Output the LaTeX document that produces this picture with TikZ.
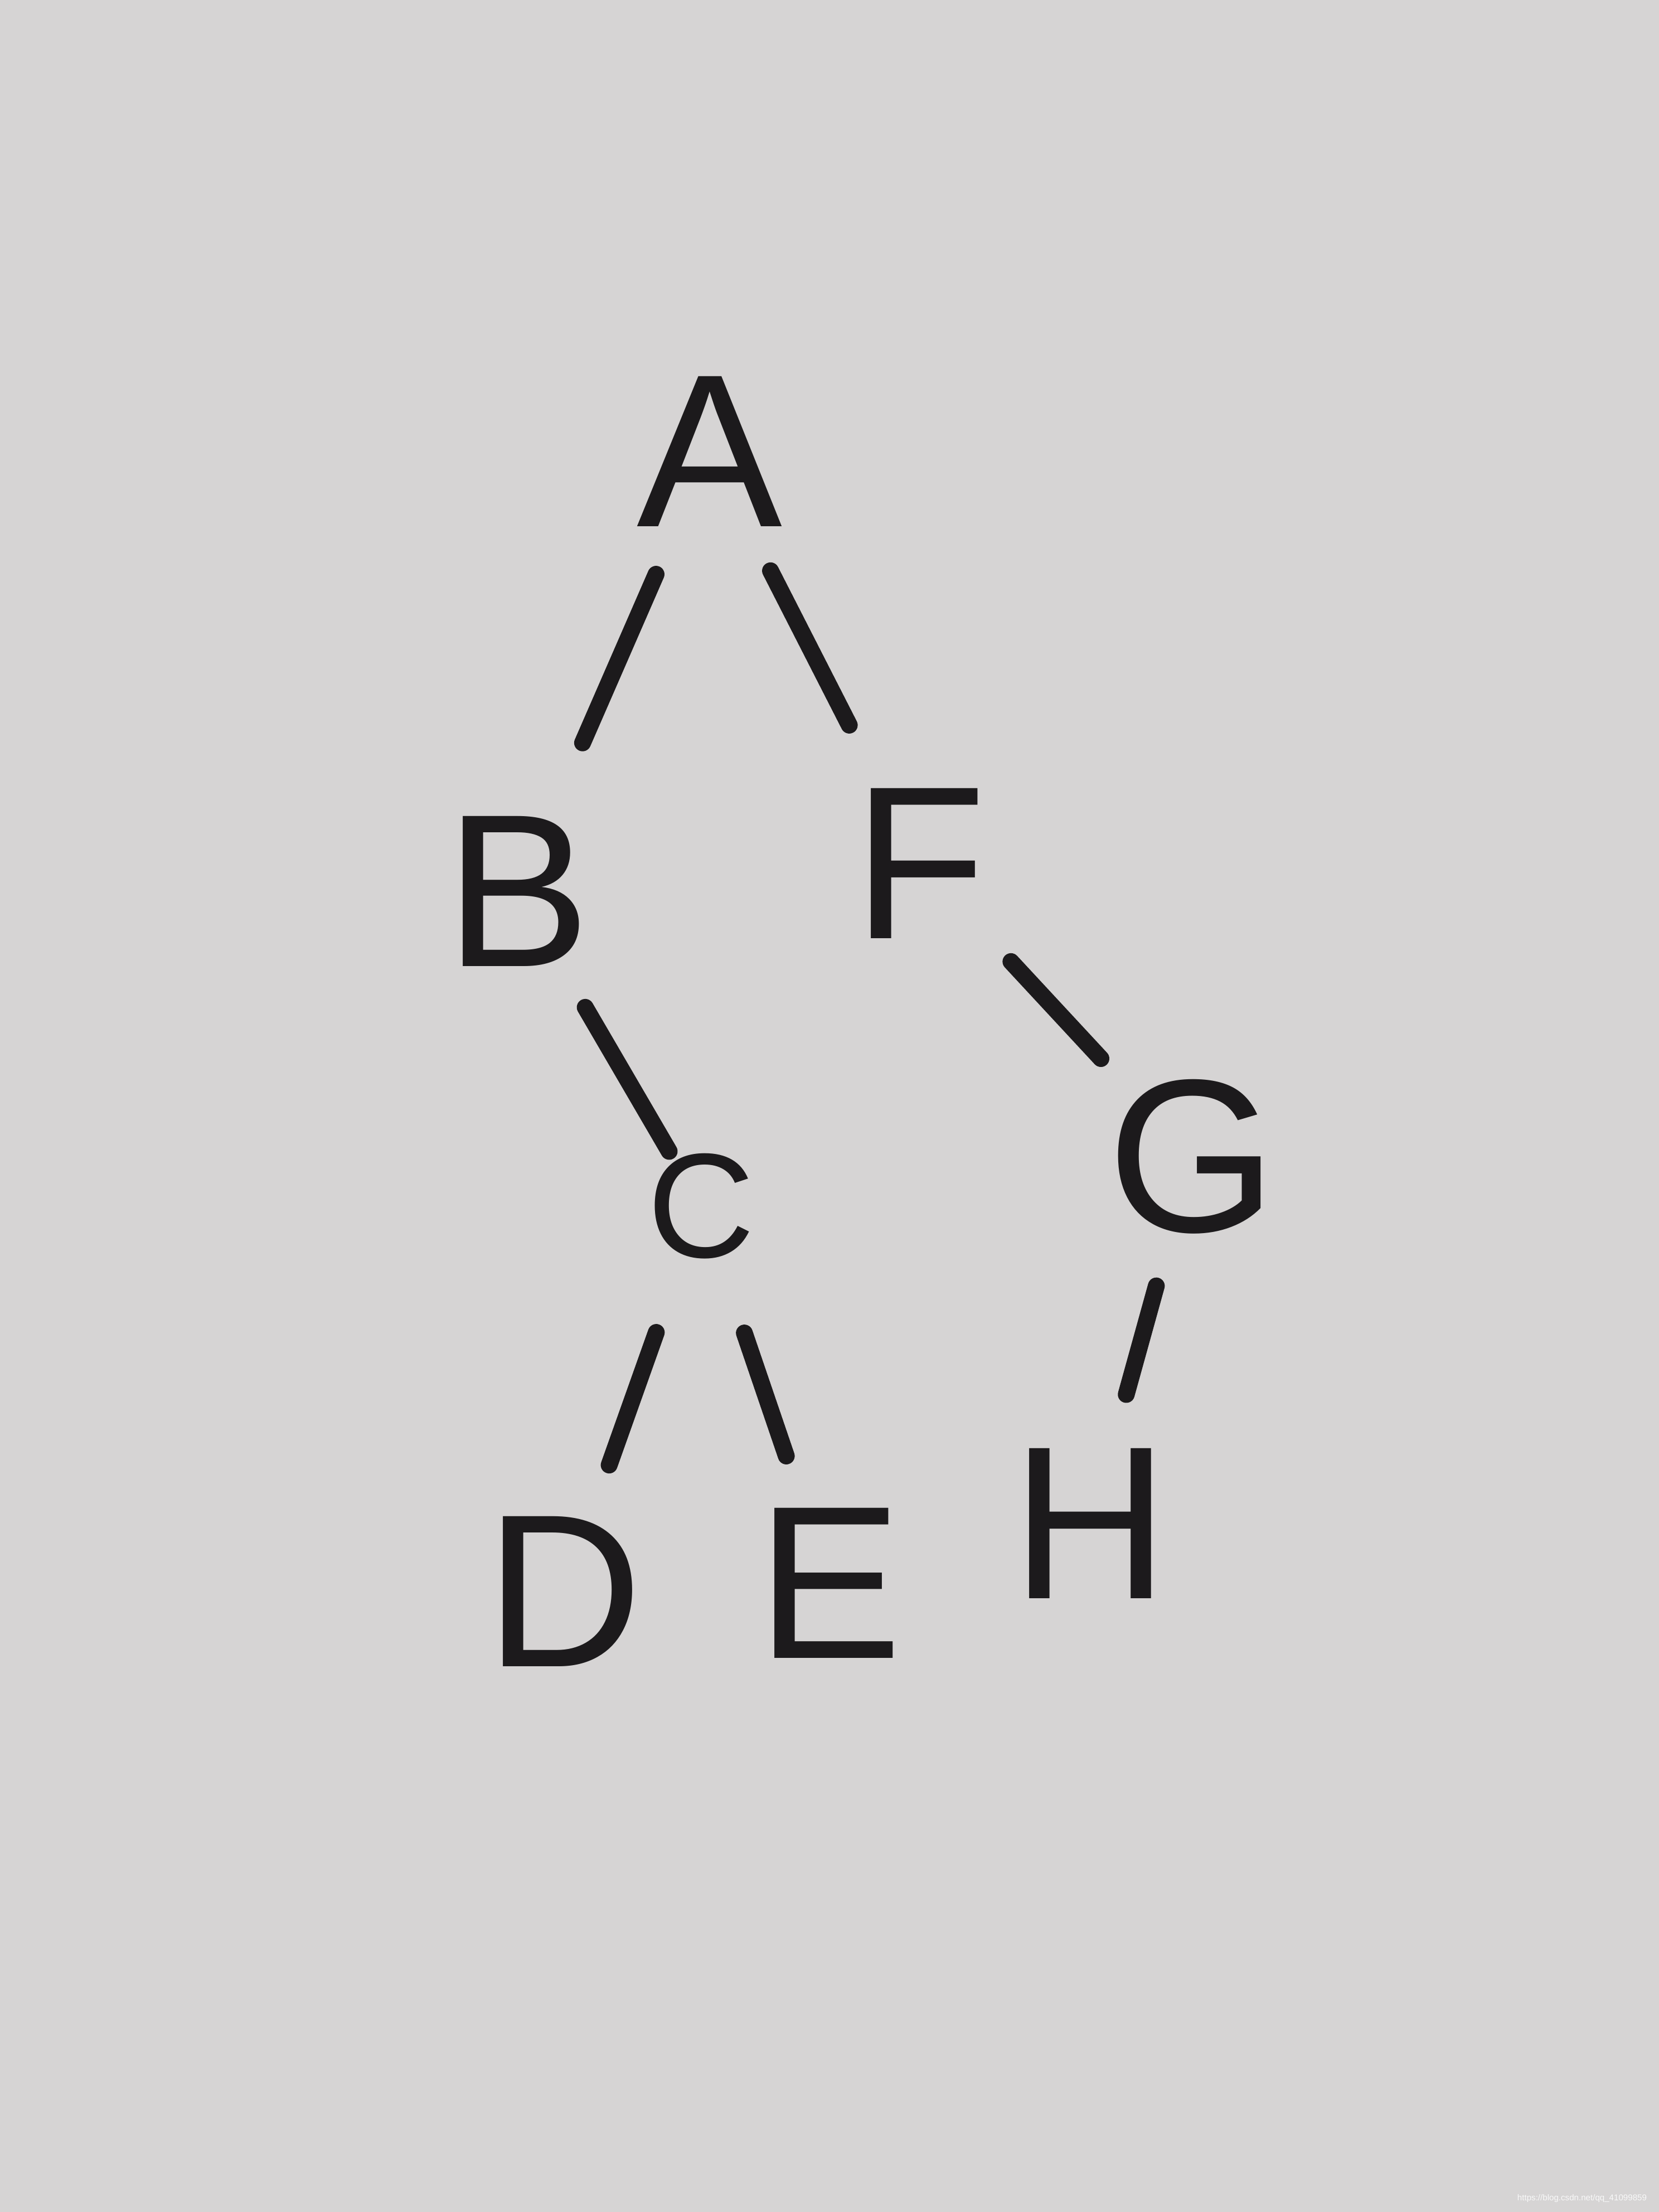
\documentclass[tikz,border=0pt]{standalone}
\usepackage{fontspec}
\setsansfont{Liberation Sans}
\usepackage{tikz}
\definecolor{paper}{RGB}{214,212,212}
\definecolor{ink}{RGB}{28,26,28}
\tikzset{%
  letter/.style = {ink, font=\sffamily\fontsize{44}{48}\selectfont,%
                   inner sep=0pt},%
  small/.style  = {letter, font=\sffamily\fontsize{30}{34}\selectfont},%
  branch/.style = {draw=ink, line width=3.4pt, line cap=round,%
                   shorten <=0.95cm, shorten >=0.95cm}%
}
\begin{document}
\begin{tikzpicture}[x=1cm, y=-1cm]
  \fill[paper] (0,0) rectangle (11.76,15.68);
  \useasboundingbox (0,0) rectangle (11.76,15.68);
  % tree letters
  \node[letter] (A) at (5.03,3.20) {A};
  \node[letter] (B) at (3.67,6.32) {B};
  \node[letter] (F) at (6.52,6.12) {F};
  \node[small]  (C) at (4.97,8.55) {C};
  \node[letter] (G) at (8.45,8.20) {G};
  \node[letter] (D) at (4.00,11.28) {D};
  \node[letter] (E) at (5.88,11.22) {E};
  \node[letter] (H) at (7.73,10.80) {H};
  % branches
  \draw[branch, shorten >=1.15cm] (A.center) -- (B.center);
  \draw[branch, shorten >=1.1cm] (A.center) -- (F.center);
  \draw[branch, shorten >=0.45cm] (B.center) -- (C.center);
  \draw[branch] (F.center) -- (G.center);
  \draw[branch] (C.center) -- (D.center);
  \draw[branch] (C.center) -- (E.center);
  \draw[branch] (G.center) -- (H.center);
  \node[anchor=south east, inner sep=0pt, white!85!paper,
        font=\sffamily\fontsize{1.7}{2}\selectfont] (mark) at (11.68,15.62)
        {https://blog.csdn.net/qq\_41099859};
\end{tikzpicture}
\end{document}
